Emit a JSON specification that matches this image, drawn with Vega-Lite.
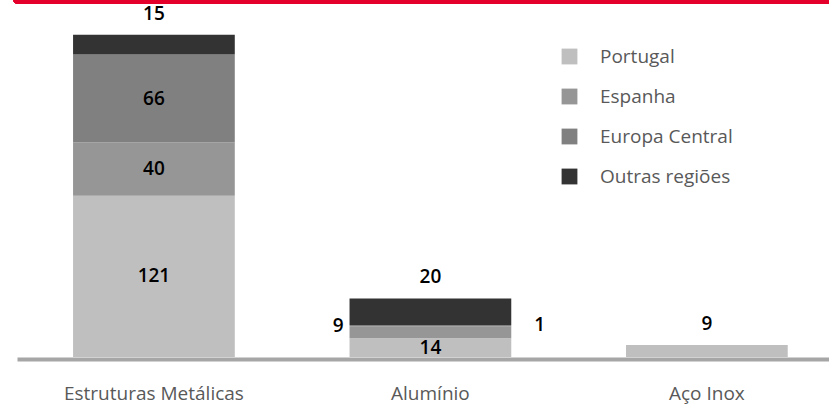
{
  "$schema": "https://vega.github.io/schema/vega-lite/v6.json",
  "autosize": "none",
  "padding": {"left": 17, "top": 0, "right": 0, "bottom": 47},
  "width": 812,
  "height": 357,
  "background": "white",
  "config": {"view": {"stroke": null}, "font": "Open Sans"},
  "data": {"values": [
    {"cat": "Estruturas Metálicas", "region": "Portugal", "value": 121},
    {"cat": "Estruturas Metálicas", "region": "Espanha", "value": 40},
    {"cat": "Estruturas Metálicas", "region": "Europa Central", "value": 66},
    {"cat": "Estruturas Metálicas", "region": "Outras regiões", "value": 15},
    {"cat": "Alumínio", "region": "Portugal", "value": 14},
    {"cat": "Alumínio", "region": "Espanha", "value": 9},
    {"cat": "Alumínio", "region": "Europa Central", "value": 1},
    {"cat": "Alumínio", "region": "Outras regiões", "value": 20},
    {"cat": "Aço Inox", "region": "Portugal", "value": 9}
  ]},
  "transform": [
    {"calculate": "indexof(['Portugal','Espanha','Europa Central','Outras regiões'], datum.region)", "as": "ord"},
    {"stack": "value", "groupby": ["cat"], "sort": [{"field": "ord", "order": "ascending"}], "as": ["v0", "v1"]},
    {"calculate": "(datum.v0 + datum.v1) / 2", "as": "mid"}
  ],
  "layer": [
    {
      "encoding": {
        "x": {
          "field": "cat", "type": "nominal", "sort": ["Estruturas Metálicas", "Alumínio", "Aço Inox"],
          "scale": {"paddingInner": 0.415, "paddingOuter": 0.176, "align": 0.576},
          "axis": {
            "title": null, "labelAngle": 0, "ticks": false, "tickSize": 0, "offset": 2,
            "domainColor": "#A6A6A6", "domainWidth": 4,
            "labelFont": "Open Sans", "labelFontSize": 19, "labelColor": "#595959",
            "labelBaseline": "alphabetic", "labelPadding": 40
          }
        }
      },
      "layer": [
        {
          "mark": {"type": "bar"},
          "encoding": {
            "y": {"field": "v0", "type": "quantitative", "scale": {"domain": [0, 268], "nice": false, "zero": true}, "axis": null},
            "y2": {"field": "v1"},
            "color": {
              "field": "region", "type": "nominal",
              "scale": {"domain": ["Portugal", "Espanha", "Europa Central", "Outras regiões"], "range": ["#BFBFBF", "#969696", "#808080", "#333333"]},
              "legend": {
                "title": null, "orient": "none", "legendX": 543, "legendY": 47, "padding": 0,
                "symbolType": "square", "symbolSize": 250, "symbolStrokeWidth": 0, "symbolOpacity": 1,
                "labelFont": "Open Sans", "labelFontSize": 19, "labelColor": "#595959", "labelOffset": 21,
                "rowPadding": 20, "labelLimit": 300
              }
            }
          }
        },
        {
          "transform": [{"filter": "(datum.cat == 'Estruturas Metálicas' && datum.region != 'Outras regiões') || (datum.cat == 'Alumínio' && datum.region == 'Portugal')"}],
          "mark": {"type": "text", "fontSize": 19, "fontWeight": 600, "color": "#000000", "baseline": "middle"},
          "encoding": {
            "y": {"field": "mid", "type": "quantitative"},
            "text": {"field": "value", "type": "quantitative"}
          }
        },
        {
          "transform": [{"filter": "datum.region == 'Outras regiões' || datum.cat == 'Aço Inox'"}],
          "mark": {"type": "text", "fontSize": 19, "fontWeight": 600, "color": "#000000", "baseline": "middle", "dy": -21},
          "encoding": {
            "y": {"field": "v1", "type": "quantitative"},
            "text": {"field": "value", "type": "quantitative"}
          }
        },
        {
          "transform": [{"filter": "datum.cat == 'Alumínio' && datum.region == 'Espanha'"}],
          "mark": {"type": "text", "fontSize": 19, "fontWeight": 600, "color": "#000000", "baseline": "middle", "align": "right", "dx": -6},
          "encoding": {
            "x": {"field": "cat", "type": "nominal", "bandPosition": 0},
            "y": {"field": "v1", "type": "quantitative"},
            "text": {"field": "value", "type": "quantitative"}
          }
        },
        {
          "transform": [{"filter": "datum.cat == 'Alumínio' && datum.region == 'Europa Central'"}],
          "mark": {"type": "text", "fontSize": 19, "fontWeight": 600, "color": "#000000", "baseline": "middle", "align": "left", "dx": 23},
          "encoding": {
            "x": {"field": "cat", "type": "nominal", "bandPosition": 1},
            "y": {"field": "v1", "type": "quantitative"},
            "text": {"field": "value", "type": "quantitative"}
          }
        }
      ]
    },
    {
      "mark": {"type": "rule", "color": "#E4002B", "strokeWidth": 7, "strokeCap": "round"},
      "encoding": {"y": {"datum": 268}}
    }
  ]
}
